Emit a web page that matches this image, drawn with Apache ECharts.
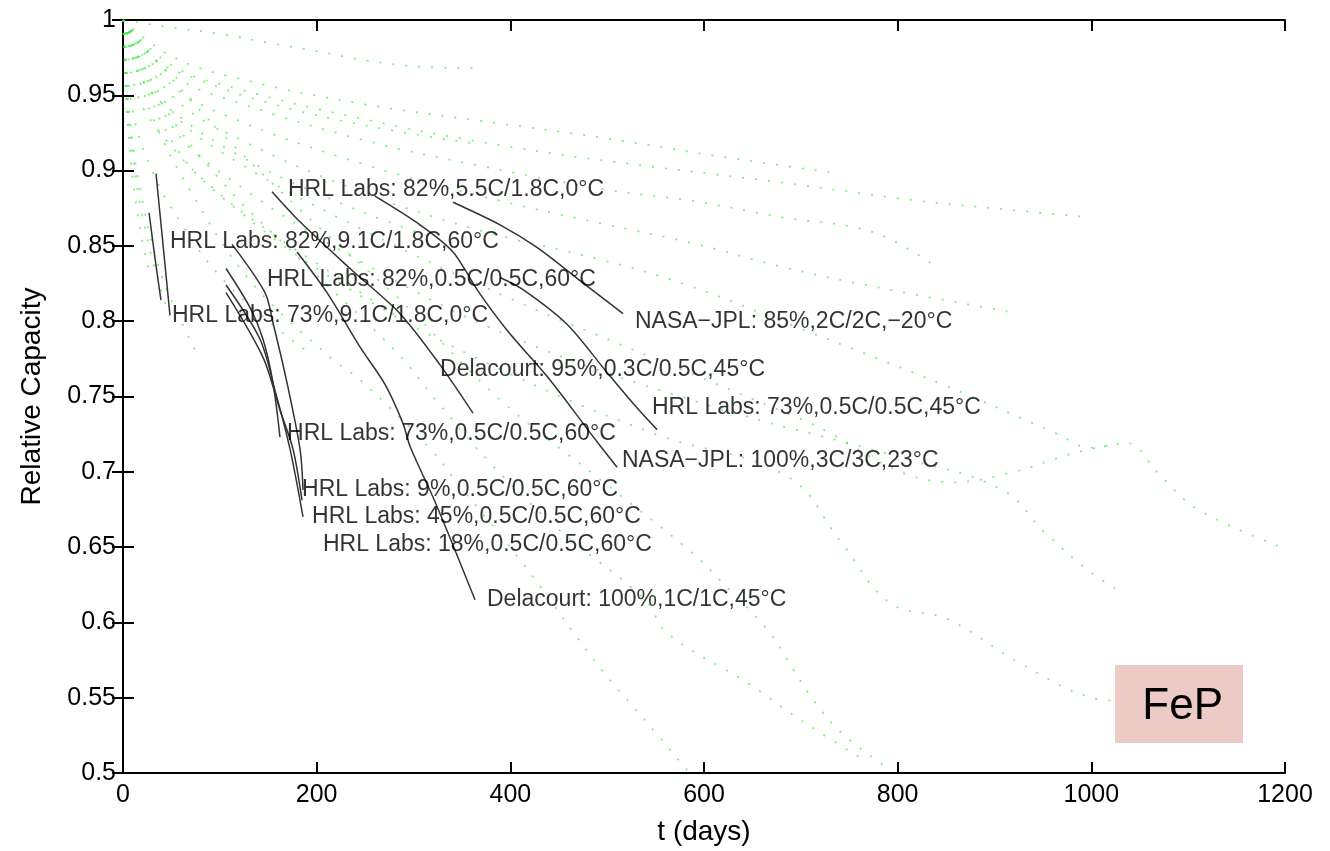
<!DOCTYPE html>
<html><head><meta charset="utf-8">
<script src="https://cdn.jsdelivr.net/npm/echarts@6/dist/echarts.min.js"></script>
<style>html,body{margin:0;padding:0;background:#fff}#c{width:1330px;height:851px}</style>
</head><body><div id="c"></div>
<script>
// ---- axes ----
const xTicks = [0, 200, 400, 600, 800, 1000, 1200];
const yTicks = [0.5, 0.55, 0.6, 0.65, 0.7, 0.75, 0.8, 0.85, 0.9, 0.95, 1];

// ---- measured data (black lines): [t (days), relative capacity] ----
const hrl73_91C_0C   = [[34.1,0.898],[41.3,0.851],[48.5,0.804]];
const hrl82_91C_60C  = [[26.9,0.872],[33.0,0.842],[39.2,0.814]];
const hrl9_05C_60C   = [[112.6,0.851],[146.6,0.819],[154.9,0.799],[169.4,0.759],[182.8,0.715],[185.9,0.688]];
const hrl73_05C_60C  = [[106.4,0.835],[131.2,0.809],[144.6,0.788],[154.9,0.759],[162.1,0.723]];
const hrl45_05C_60C  = [[106.4,0.824],[141.5,0.788],[157.0,0.754],[172.5,0.715],[185.9,0.670]];
const hrl18_05C_60C  = [[106.4,0.819],[144.6,0.776],[162.1,0.741],[175.6,0.715],[184.9,0.681]];
const hrl82_55C_0C   = [[153.9,0.886],[182.8,0.866],[234.4,0.835],[286.1,0.805],[327.4,0.771],[361.4,0.739]];
const dela100_1C_45C = [[179.7,0.846],[210.7,0.819],[244.7,0.783],[270.6,0.758],[289.2,0.732],[296.4,0.717],[324.3,0.677],[363.5,0.615]];
const nasa85_2C_m20C = [[340.8,0.879],[389.3,0.864],[427.5,0.849],[471.9,0.827],[516.4,0.805]];
const nasa100_3C_23C = [[260.2,0.883],[306.7,0.864],[340.8,0.846],[365.6,0.821],[396.6,0.794],[441.0,0.761],[482.3,0.726],[510.2,0.703]];
const hrl73_05C_45C  = [[389.3,0.829],[413.1,0.821],[458.5,0.798],[499.8,0.766],[528.7,0.744],[551.5,0.728]];
const measured = [hrl73_91C_0C, hrl82_91C_60C, hrl9_05C_60C, hrl73_05C_60C, hrl45_05C_60C, hrl18_05C_60C,
  hrl82_55C_0C, dela100_1C_45C, nasa85_2C_m20C, nasa100_3C_23C, hrl73_05C_45C];

// ---- model curves (green dotted) ----
const model01 = [[0,1],[40,0.996],[107,0.990],[149,0.985],[203,0.979],[252,0.973],[307,0.969],[361,0.968]];
const model02 = [[0,1],[50,0.976],[120,0.961],[250,0.944],[370,0.933],[493,0.922],[620,0.909],[741,0.898]];
const model03 = [[0,1],[50,0.970],[120,0.954],[250,0.934],[370,0.919],[493,0.907],[681,0.892],[821,0.880],[915,0.874],[999,0.869]];
const model04 = [[0,1],[50,0.964],[120,0.945],[250,0.920],[370,0.903],[502,0.887],[587,0.880],[681,0.869],[775,0.859],[840,0.836]];
const model05 = [[0,1],[50,0.957],[120,0.933],[250,0.904],[370,0.883],[493,0.865],[587,0.852],[681,0.836],[775,0.823],[917,0.806]];
const model06 = [[0,1],[50,0.950],[120,0.921],[250,0.885],[370,0.860],[493,0.841],[587,0.823],[700,0.795],[850,0.757],[962,0.726],[1000,0.716],[1037,0.719],[1069,0.699],[1110,0.675],[1200,0.649]];
const model07 = [[0,1],[50,0.940],[120,0.905],[250,0.860],[400,0.815],[550,0.775],[700,0.735],[857,0.693],[920,0.700],[980,0.712],[1028,0.719]];
const model08 = [[0,1],[50,0.930],[120,0.890],[250,0.838],[400,0.790],[600,0.745],[800,0.710],[908,0.688],[953,0.659],[1000,0.633],[1032,0.620]];
const model09 = [[0,1],[50,0.920],[120,0.873],[250,0.815],[400,0.765],[550,0.725],[686,0.697],[742,0.653],[792,0.613],[852,0.602],[926,0.573],[1000,0.550],[1028,0.548]];
const model10 = [[0,1],[79.5,0.940],[182.8,0.874],[286.1,0.814],[389.3,0.748],[492.6,0.695],[584.5,0.648],[616.5,0.628],[668.2,0.593],[690.9,0.570],[713.6,0.548],[741.5,0.527],[788,0.504]];
const model11 = [[0,1],[38.2,0.947],[100.2,0.894],[182.8,0.841],[283,0.779],[325.3,0.746],[379,0.706],[451.3,0.661],[539.1,0.615],[561.8,0.593],[644.4,0.560],[700.2,0.535],[764.2,0.509]];
const model12 = [[0,1],[27.9,0.940],[69.2,0.887],[131.2,0.827],[213.8,0.776],[246.8,0.760],[319.1,0.714],[344.9,0.693],[413.1,0.639],[492.6,0.570],[539.1,0.535],[582.5,0.502]];
const model13 = [[0,1],[30,0.975],[80,0.960],[150,0.945],[250,0.930],[363,0.918]];
const model14 = [[0,1],[20,0.960],[60,0.935],[120,0.910],[200,0.885],[300,0.860],[363,0.848]];
const model15 = [[0,1],[15,0.950],[45,0.920],[90,0.890],[150,0.860],[220,0.830],[290,0.800]];
const model16 = [[0,1],[10,0.940],[30,0.900],[60,0.865],[100,0.830],[150,0.800],[190,0.780]];
const model17 = [[0,1],[8,0.930],[20,0.880],[40,0.830],[60,0.800],[75,0.780]];
const model18 = [[0,1],[4,0.950],[10,0.910],[20,0.870],[35,0.830],[50,0.800]];
const model19 = [[0,1],[2,0.965],[5,0.930],[10,0.895],[18,0.860],[28,0.830]];
const models = [model01, model02, model03, model04, model05, model06, model07, model08, model09, model10,
  model11, model12, model13, model14, model15, model16, model17, model18, model19];

// ---- annotations: [t, capacity, text] (text starts at the point) ----
const noteT = [170.4, 48.5, 148.7, 50.6, 528.7, 327.4, 546.3, 169.4, 515.3, 184.9, 195.2, 206.5, 375.9];
const noteY = [0.8871, 0.8526, 0.8274, 0.8035, 0.7995, 0.7676, 0.7424, 0.7251, 0.7072, 0.6879, 0.6700, 0.6514, 0.6149];
const noteText = [
  'HRL Labs: 82%,5.5C/1.8C,0°C',
  'HRL Labs: 82%,9.1C/1.8C,60°C',
  'HRL Labs: 82%,0.5C/0.5C,60°C',
  'HRL Labs: 73%,9.1C/1.8C,0°C',
  'NASA\u2212JPL: 85%,2C/2C,\u221220°C',
  'Delacourt: 95%,0.3C/0.5C,45°C',
  'HRL Labs: 73%,0.5C/0.5C,45°C',
  'HRL Labs: 73%,0.5C/0.5C,60°C',
  'NASA\u2212JPL: 100%,3C/3C,23°C',
  'HRL Labs: 9%,0.5C/0.5C,60°C',
  'HRL Labs: 45%,0.5C/0.5C,60°C',
  'HRL Labs: 18%,0.5C/0.5C,60°C',
  'Delacourt: 100%,1C/1C,45°C'
];

const FONT = '"Liberation Sans", Arial, sans-serif';
const chart = echarts.init(document.getElementById('c'), null, {renderer: 'canvas'});

const axisCommon = {
  axisLine: {lineStyle: {color: '#000', width: 2}},
  axisTick: {inside: true, length: 11, lineStyle: {color: '#000', width: 2}},
  splitLine: {show: false}
};

const series = [];
models.forEach(m => series.push({
  type: 'line', data: m, smooth: 0.4, showSymbol: false, silent: true,
  lineStyle: {color: 'rgba(40,230,40,0.6)', width: 1.8, type: [2, 11]}, z: 2
}));
measured.forEach(m => series.push({
  type: 'line', data: m, smooth: 0.3, showSymbol: false, silent: true,
  lineStyle: {color: '#333', width: 1.5}, z: 3
}));
series.push({
  type: 'scatter', symbolSize: 0, silent: true, z: 4,
  data: noteT.map((t, i) => ({value: [t, noteY[i]], name: noteText[i]})),
  label: {show: true, position: 'right', distance: 0, formatter: p => p.name,
    fontFamily: FONT, fontSize: 23, color: '#000'}
});

chart.setOption({
  animation: false,
  backgroundColor: '#fff',
  grid: {left: 123, right: 45, top: 20, bottom: 78, containLabel: false},
  xAxis: [
    Object.assign({type: 'value', position: 'bottom', min: xTicks[0], max: xTicks[xTicks.length-1], interval: 200,
      axisLabel: {fontFamily: FONT, fontSize: 25, color: '#000', margin: 10, formatter: v => String(v)},
      name: 't (days)', nameLocation: 'middle', nameGap: 45,
      nameTextStyle: {fontFamily: FONT, fontSize: 28, color: '#000', verticalAlign: 'top'}}, axisCommon),
    Object.assign({type: 'value', position: 'top', min: 0, max: 1200, interval: 200,
      axisLabel: {show: false}}, axisCommon)
  ],
  yAxis: [
    Object.assign({type: 'value', position: 'left', min: yTicks[0], max: yTicks[yTicks.length-1], interval: 0.05,
      axisLabel: {fontFamily: FONT, fontSize: 25, color: '#000', margin: 7,
        formatter: v => String(+v.toFixed(2))},
      name: 'Relative Capacity', nameLocation: 'middle', nameGap: 77,
      nameTextStyle: {fontFamily: FONT, fontSize: 28, color: '#000'}}, axisCommon),
    Object.assign({type: 'value', position: 'right', min: 0.5, max: 1, interval: 0.05,
      axisLabel: {show: false}}, axisCommon)
  ],
  graphic: [
    {type: 'rect', right: 87, bottom: 108, shape: {width: 128, height: 78}, style: {fill: '#ECCBC6'}, z: 10},
    {type: 'text', right: 107, bottom: 122, style: {text: 'FeP', fontFamily: FONT, fontSize: 44, fill: '#000'}, z: 11}
  ],
  series: series
});
</script></body></html>
